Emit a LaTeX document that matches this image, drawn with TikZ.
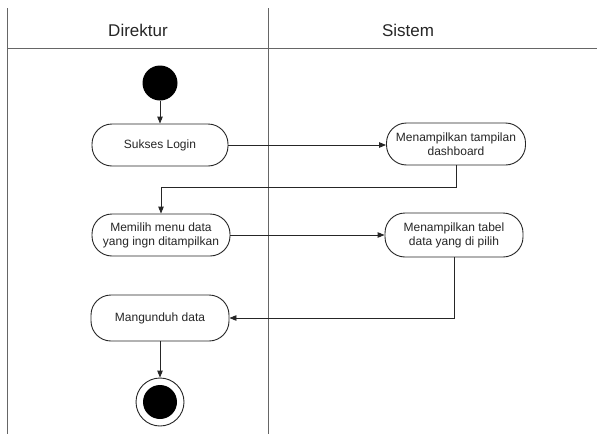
\documentclass[tikz,border=0pt]{standalone}
\usepackage{fontspec}
\setmainfont{Liberation Sans}
\usetikzlibrary{arrows.meta}
\begin{document}
\begin{tikzpicture}[x=1pt,y=-1pt,
  act/.style={draw=black!85, line width=0.9pt, rounded corners=20pt, minimum width=138pt, minimum height=42pt, align=center, inner sep=1pt, font=\fontsize{12}{14}\selectfont, text=black!85},
  lane/.style={draw=black!60, line width=0.9pt},
  flow/.style={draw=black!85, line width=0.9pt, -{Triangle[length=7pt,width=5.5pt]}},
  lanetitle/.style={font=\fontsize{17}{20}\selectfont, text=black!85}]
\useasboundingbox (0,0) rectangle (597,434);
\fill[white] (0,0) rectangle (597,434);
% swimlanes
\draw[lane] (7,8) -- (7,434);
\draw[lane] (268,8) -- (268,434);
\draw[lane] (7,48) -- (597,48);
\node[lanetitle] (lDir) at (138,30) {Direktur};
\node[lanetitle] (lSis) at (408,30) {Sistem};
% nodes
\node[circle, fill=black, minimum size=35pt, inner sep=0pt] (start) at (160,83) {};
\node[act, minimum width=136pt] (sukses) at (160,145) {Sukses Login};
\node[act, minimum width=139pt] (dash) at (456,144) {Menampilkan tampilan\\dashboard};
\node[act] (memilih) at (161,235) {Memilih menu data\\yang ingn ditampilkan};
\node[act, minimum height=44pt] (tabel) at (454,235) {Menampilkan tabel\\data yang di pilih};
\node[act, minimum height=46pt] (unduh) at (160,318) {Mangunduh data};
\node[circle, draw=black!85, line width=0.9pt, minimum size=48pt, inner sep=0pt] (end) at (160,402) {};
\node[circle, fill=black, minimum size=34pt, inner sep=0pt] (endin) at (end.center) {};
% flows
\draw[flow] (start) -- (sukses);
\draw[flow] (sukses.east) -- (sukses.east -| dash.west);
\draw[flow] (dash.south) -- ++(0,22) -| (memilih.north);
\draw[flow] (memilih.east) -- (memilih.east -| tabel.west);
\draw[flow] (tabel.south) |- (unduh.east);
\draw[flow] (unduh) -- (end);
\end{tikzpicture}
\end{document}
